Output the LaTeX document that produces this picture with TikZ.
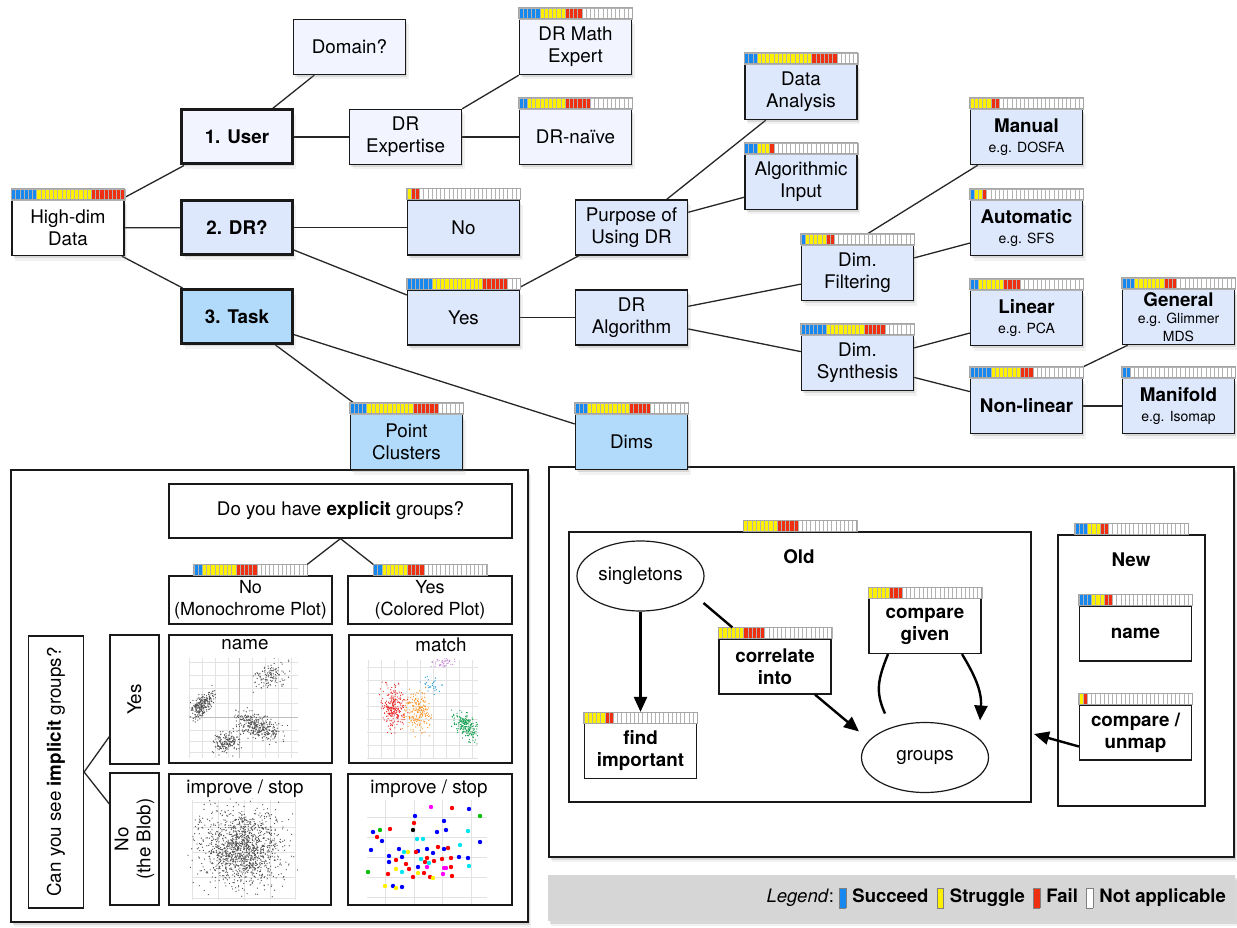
\documentclass[tikz,border=0pt]{standalone}
\usepackage{fontspec}
\setmainfont{TeX Gyre Heros}
\usetikzlibrary{shapes.geometric,arrows.meta,shadows}
\pgfdeclarelayer{bg}
\pgfsetlayers{bg,main}
\definecolor{sblue}{RGB}{22,136,240}
\definecolor{syel}{RGB}{255,240,0}
\definecolor{sred}{RGB}{238,48,16}
\definecolor{lav}{RGB}{242,244,255}
\definecolor{lblue}{RGB}{222,232,252}
\definecolor{mblue}{RGB}{178,218,251}
\definecolor{legendgray}{RGB}{214,214,214}
\definecolor{dblue}{RGB}{0,0,255}
\definecolor{dred}{RGB}{255,0,0}
\definecolor{dcyan}{RGB}{0,230,240}
\definecolor{dyel}{RGB}{255,240,0}
\definecolor{dmag}{RGB}{255,0,255}
\definecolor{dgreen}{RGB}{0,190,0}
\definecolor{cpurple}{RGB}{195,130,215}
\definecolor{cteal}{RGB}{40,160,210}
\definecolor{cred}{RGB}{232,40,40}
\definecolor{corange}{RGB}{250,150,40}
\definecolor{cgreen}{RGB}{20,160,80}
\definecolor{cgray}{RGB}{80,80,80}
\newcommand\mainsize{\fontsize{18.8}{22}\selectfont}
\newcommand\egsize{\fontsize{14}{16}\selectfont}
\newcommand\swatch[1]{{\setlength\fboxsep{0pt}\setlength\fboxrule{0.7pt}\raisebox{-5pt}{\fcolorbox{gray}{#1}{\rule{0pt}{19pt}\hspace{6pt}}}}}
\def\cw{4.2}
\newcommand\sbar[4]{%
  \node[barbox,anchor=south] (#1-bar) at (#1.north) {};
  \begin{scope}[shift={(#1-bar.north west)}]
    \foreach \i in {1,...,27}{%
      \ifnum\i>\numexpr#2+#3+#4\relax \def\cc{white}%
      \else\ifnum\i>\numexpr#2+#3\relax \def\cc{sred}%
      \else\ifnum\i>#2\relax \def\cc{syel}%
      \else \def\cc{sblue}\fi\fi\fi
      \filldraw[fill=\cc,draw=gray!60,line width=0.35pt] ({(\i-1)*\cw},0) rectangle ({\i*\cw},11);
    }
  \end{scope}
  \draw[gray!70,line width=0.7pt] (#1-bar.north west) rectangle (#1-bar.south east);
}
\newcommand\cluster[7]{%
  \foreach \k in {1,...,#6}{%
    \pgfmathsetmacro\ga{rand+rand+rand}%
    \pgfmathsetmacro\gb{rand+rand+rand}%
    \pgfmathsetmacro\px{#1+(#3)*(\ga)}%
    \pgfmathsetmacro\py{#2+(#4)*((#5)*(\ga)+sqrt(1-(#5)*(#5))*(\gb))}%
    \fill[#7] (\px,\py) circle[radius=0.65pt];
  }}
\begin{document}
\begin{tikzpicture}[x=1pt,y=-1pt,
  shad/.style={drop shadow={shadow xshift=1.5pt,shadow yshift=-2.5pt,opacity=0.22},drop shadow={shadow xshift=3pt,shadow yshift=-5pt,opacity=0.1}},
  conn/.style={line width=1.3pt,black!85},
  box/.style={draw=black!90,line width=1.4pt,inner sep=0pt,minimum width=112pt,minimum height=55pt,align=center,font=\mainsize,shad},
  tbox/.style={box,line width=3pt,minimum width=111pt,minimum height=54pt},
  pbox/.style={draw=black!90,line width=1.2pt,fill=white,inner sep=0pt,align=center,font=\mainsize},
  bpbox/.style={pbox,minimum width=112pt,minimum height=55pt,font=\mainsize\bfseries},
  panel/.style={draw=black!90,line width=1.5pt,fill=white,inner sep=0pt,shad},
  barbox/.style={inner sep=0pt,outer sep=0pt,minimum width=113.4pt,minimum height=11pt},
  ell/.style={ellipse,draw=black!90,line width=1.2pt,fill=white,inner sep=0pt,minimum width=127pt,minimum height=70pt,font=\mainsize},
  arr/.style={line width=2.4pt,-{Triangle[length=15pt,width=13pt]}},
  thk/.style={line width=2.4pt},
  gridc/.style={gray!22,line width=0.6pt},
  gridd/.style={gray!50,line width=0.7pt},
  ttl/.style={font=\mainsize,inner sep=0pt}]
\useasboundingbox (0,0) rectangle (1237,928);
\begin{pgfonlayer}{bg}
  \fill[white] (0,0) rectangle (1237,928);
\end{pgfonlayer}
\pgfmathsetseed{4242}

% ---------- panels ----------
\node[panel,minimum width=517pt,minimum height=452pt] (lpanel) at (269.5,696) {};
\node[panel,minimum width=685pt,minimum height=390pt] (rpanel) at (891.5,662) {};
\node[fill=legendgray,inner sep=0pt,minimum width=687pt,minimum height=46pt,shad] (legend) at (891.5,898) {};

% ---------- top tree ----------
\node[box,fill=white] (hd) at (68,228) {High-dim\\Data};
\node[tbox,fill=lav] (user) at (237,137) {\textbf{1. User}};
\node[box,fill=lav] (domain) at (349.5,47) {Domain?};
\node[box,fill=lav] (drexp) at (405.5,137) {DR\\Expertise};
\node[box,fill=lav] (drmath) at (575.5,47) {DR Math\\Expert};
\node[box,fill=lav] (drnaive) at (575.5,137) {DR-naïve};
\node[tbox,fill=lblue] (dr) at (237,227.5) {\textbf{2. DR?}};
\node[box,fill=lblue] (no) at (463.5,227.5) {No};
\node[tbox,fill=mblue] (task) at (237,316.5) {\textbf{3. Task}};
\node[box,fill=lblue] (yes) at (463.5,317.5) {Yes};
\node[box,fill=lblue] (purpose) at (631.5,227.5) {Purpose of\\Using DR};
\node[box,fill=lblue] (dralg) at (631.5,317.5) {DR\\Algorithm};
\node[box,fill=lblue] (danal) at (801,92) {Data\\Analysis};
\node[box,fill=lblue] (algin) at (801,182) {Algorithmic\\Input};
\node[box,fill=lblue] (dimf) at (857.5,273) {Dim.\\Filtering};
\node[box,fill=lblue] (dimsyn) at (857.5,363) {Dim.\\Synthesis};
\node[box,fill=lblue] (manual) at (1026.5,137) {\textbf{Manual}\\[-2pt]\egsize e.g. DOSFA};
\node[box,fill=lblue] (auto) at (1026.5,228) {\textbf{Automatic}\\[-2pt]\egsize e.g. SFS};
\node[box,fill=lblue] (linear) at (1026.5,318) {\textbf{Linear}\\[-2pt]\egsize e.g. PCA};
\node[box,fill=lblue] (nonlin) at (1026.5,406) {\textbf{Non-linear}};
\node[box,fill=lblue] (general) at (1178.5,317) {\textbf{General}\\[-5pt]\egsize e.g. Glimmer\\[-4pt]\egsize MDS};
\node[box,fill=lblue] (manifold) at (1178.5,406) {\textbf{Manifold}\\[-2pt]\egsize e.g. Isomap};
\node[box,fill=mblue] (pclust) at (406.5,442) {Point\\Clusters};
\node[box,fill=mblue] (dimsbox) at (631.5,442) {Dims};

% ---------- lower left ----------
\node[pbox,minimum width=343pt,minimum height=54pt] (expl) at (340.5,511) {Do you have \textbf{explicit} groups?};
\node[pbox,minimum width=163pt,minimum height=48pt,font=\fontsize{18}{22}\selectfont] (nomono) at (250.5,600) {No\\(Monochrome Plot)};
\node[pbox,minimum width=164pt,minimum height=48pt,font=\fontsize{18}{22}\selectfont] (yescol) at (430,600) {Yes\\(Colored Plot)};
\node[pbox,rotate=90,minimum width=272pt,minimum height=55pt] (implicit) at (56,772) {Can you see \textbf{implicit} groups?};
\node[pbox,rotate=90,minimum width=129pt,minimum height=49pt] (yesimp) at (134.5,699.5) {Yes};
\node[pbox,rotate=90,minimum width=132pt,minimum height=49pt] (noblob) at (134.5,839) {No\\(the Blob)};
\node[pbox,minimum width=163pt,minimum height=128pt] (nameplot) at (250.5,699) {};
\node[pbox,minimum width=163pt,minimum height=128pt] (matchplot) at (430.5,699) {};
\node[pbox,minimum width=162pt,minimum height=131pt] (blobplot) at (250,839.5) {};
\node[pbox,minimum width=164pt,minimum height=131pt] (dotplot) at (430,839.5) {};
\node[ttl] (nametitle) at (245,645) {name};
\node[ttl] (matchtitle) at (441,645) {match};
\node[ttl] (blobtitle) at (245,789) {improve / stop};
\node[ttl] (dottitle) at (429,789) {improve / stop};

% name plot
\begin{scope}
  \clip (189,658) rectangle (298,758);
  \foreach \gx in {189,202,215,228,252,265,278,291} \draw[gridc] (\gx,658) -- (\gx,758);
  \foreach \gy in {662,675,688,703,730,741,752} \draw[gridc] (189,\gy) -- (298,\gy);
  \draw[gridd] (239,658) -- (239,758);
  \draw[gridd] (189,717) -- (298,717);
  \cluster{202}{705}{6}{6.5}{-0.6}{240}{cgray}
  \cluster{270}{675}{8}{7}{-0.3}{120}{cgray}
  \cluster{258}{726}{11}{6.5}{0.5}{330}{cgray}
  \cluster{226}{742}{7}{5.5}{-0.2}{170}{cgray}
\end{scope}
% match plot
\begin{scope}
  \clip (367,658) rectangle (478,760);
  \foreach \gx in {368,381,...,472} \draw[gridc] (\gx,660) -- (\gx,758);
  \foreach \gy in {667,680,...,758} \draw[gridc] (367,\gy) -- (478,\gy);
  \cluster{443}{663}{6}{2.5}{0}{40}{cpurple}
  \cluster{432}{686}{5}{5}{0.3}{30}{cteal}
  \cluster{393}{708}{6}{11}{0.1}{230}{cred}
  \cluster{418}{712}{6}{10}{0}{210}{corange}
  \cluster{466}{726}{6}{7}{0.5}{200}{cgreen}
\end{scope}
% blob plot
\begin{scope}
  \clip (186,798) rectangle (300,903);
  \foreach \gx in {192,218,244,270,295} \draw[gridc] (\gx,800) -- (\gx,900);
  \foreach \gy in {802,827,852,877,898} \draw[gridc] (192,\gy) -- (295,\gy);
  \cluster{242}{848}{20}{19}{0}{1300}{cgray}
\end{scope}
% colored dot plot
\foreach \gx in {385.5,414,442,471} \draw[gridc] (\gx,800) -- (\gx,904);
\foreach \gy in {817,837,857,877,897} \draw[gridc] (367,\gy) -- (487,\gy);
\foreach \px/\py/\pc in {431/807/dmag,452/808/dred,469/809/dblue,480/816/dgreen,415/816/dblue,444/821/dblue,414/823/dred,390/829/dred,413/830/black,446/830/dblue,437/832/dblue,468/831/dcyan,373/832/dblue,380/830/dgreen,377/837/dred,382/841/dblue,417/839/dcyan,423/839/dcyan,480/842/dblue,460/845/dcyan,438/847/dred,448/848/dred,444/849/dblue,371/850/dblue,399/849/dblue,408/852/dyel,404/852/dcyan,418/851/dblue,427/849/dblue,433/853/dblue,416/852/dred,389/856/dblue,402/857/dblue,459/857/dblue,468/858/dblue,396/860/dred,421/859/dcyan,427/858/dred,434/861/dred,442/859/dred,451/858/dred,425/862/dred,429/863/dcyan,389/862/dblue,406/864/dred,418/867/dblue,427/867/dmag,444/868/dmag,446/868/dmag,451/867/dred,469/866/dcyan,409/869/dred,396/869/dyel,402/872/dcyan,368/872/dgreen,388/874/dred,418/873/dyel,424/873/dred,443/874/dmag,452/876/dred,413/877/dred,430/877/dred,433/878/dyel,385/886/dyel,393/886/dblue,396/888/dyel,402/887/dblue}
  \fill[\pc] (\px,\py) circle[radius=2.2pt];

% ---------- right panel ----------
\node[pbox,minimum width=462pt,minimum height=270pt] (old) at (800,667) {};
\node[pbox,minimum width=147pt,minimum height=271pt] (new) at (1131.5,670.5) {};
\node[ttl] (oldlbl) at (799,557) {\textbf{Old}};
\node[ttl] (newlbl) at (1131,560) {\textbf{New}};
\node[ell] (sing) at (640.5,576) {singletons};
\node[ell] (groups) at (925,757.5) {groups};
\node[bpbox] (corr) at (775,666.5) {correlate\\into};
\node[bpbox] (cgiven) at (925,626) {compare\\given};
\node[bpbox] (findimp) at (640.5,751) {find\\important};
\node[bpbox] (nname) at (1135.5,633.5) {name};
\node[bpbox] (cunmap) at (1135.5,732.5) {compare /\\unmap};
\coordinate (oldhit) at (1034,734);

% ---------- bars ----------
\sbar{hd}{6}{13}{8}
\sbar{drmath}{5}{6}{4}
\sbar{drnaive}{2}{9}{6}
\sbar{no}{0}{1}{2}
\sbar{yes}{6}{12}{6}
\sbar{danal}{3}{13}{6}
\sbar{algin}{3}{3}{1}
\sbar{dimf}{1}{5}{2}
\sbar{dimsyn}{6}{9}{5}
\sbar{manual}{0}{5}{2}
\sbar{auto}{1}{2}{1}
\sbar{linear}{2}{6}{4}
\sbar{nonlin}{5}{7}{3}
\sbar{general}{3}{7}{3}
\sbar{manifold}{2}{0}{0}
\sbar{pclust}{4}{11}{6}
\sbar{dimsbox}{3}{10}{5}
\sbar{nomono}{2}{8}{5}
\sbar{yescol}{2}{6}{4}
\sbar{old}{0}{8}{5}
\sbar{new}{3}{3}{2}
\sbar{nname}{3}{3}{2}
\sbar{cunmap}{0}{1}{1}
\sbar{cgiven}{0}{5}{3}
\sbar{corr}{0}{6}{5}
\sbar{findimp}{0}{5}{2}

% ---------- connectors ----------
\begin{pgfonlayer}{bg}
  \draw[conn] (hd) -- (user);
  \draw[conn] (hd) -- (dr);
  \draw[conn] (hd) -- (task);
  \draw[conn] (user) -- (domain);
  \draw[conn] (user) -- (drexp);
  \draw[conn] (drexp.north east) -- (drmath.south west);
  \draw[conn] (drexp) -- (drnaive);
  \draw[conn] (dr) -- (no);
  \draw[conn] (dr) -- (yes);
  \draw[conn] (task) -- (pclust);
  \draw[conn] (task) -- (dimsbox);
  \draw[conn] (yes) -- (purpose);
  \draw[conn] (yes) -- (dralg);
  \draw[conn] (purpose) -- (danal);
  \draw[conn] (purpose) -- (algin);
  \draw[conn] (dralg) -- (dimf);
  \draw[conn] (dralg) -- (dimsyn);
  \draw[conn] ([xshift=10pt]dimf-bar.north) -- ([xshift=8pt]manual.south west);
  \draw[conn] (dimf) -- (auto);
  \draw[conn] (dimsyn) -- (linear);
  \draw[conn] (dimsyn) -- (nonlin);
  \draw[conn] (nonlin-bar.north east) -- ([xshift=6pt]general.south west);
  \draw[conn] (nonlin) -- (manifold);
\end{pgfonlayer}
\draw[conn] (expl.south) -- (nomono-bar.north east);
\draw[conn] (expl.south) -- (yescol-bar.north west);
\draw[conn] (implicit.south) -- ([yshift=-37pt]yesimp.north);
\draw[conn] (implicit.south) -- ([yshift=35pt]noblob.north);

\draw[arr] (sing) -- (findimp-bar);
\draw[thk] ([shift={(63,27)}]sing.center) -- ([xshift=14pt]corr-bar.north west);
\draw[arr] ([xshift=40pt]corr.south) -- ([shift={(-66,-26)}]groups.center);
\draw[thk] ([shift={(-40,-44)}]groups.center) .. controls +(-10,-22) and +(-10,25) .. ([xshift=-37pt]cgiven.south);
\draw[arr] ([xshift=37pt]cgiven.south) .. controls +(12,20) and +(2,-30) .. ([shift={(55,-37)}]groups.center);
\draw[arr] ([yshift=-14pt]cunmap.west) -- (oldhit);

% ---------- legend ----------
\node[anchor=east,inner sep=0pt,font=\fontsize{18.5}{22}\selectfont] (legtext) at (1226,898)
  {\textit{Legend}:\hspace{5pt}\swatch{sblue}\hspace{6pt}\textbf{Succeed}\hspace{8pt}\swatch{syel}\hspace{6pt}\textbf{Struggle}\hspace{8pt}\swatch{sred}\hspace{6pt}\textbf{Fail}\hspace{8pt}\swatch{white}\hspace{6pt}\textbf{Not applicable}};
\end{tikzpicture}
\end{document}
